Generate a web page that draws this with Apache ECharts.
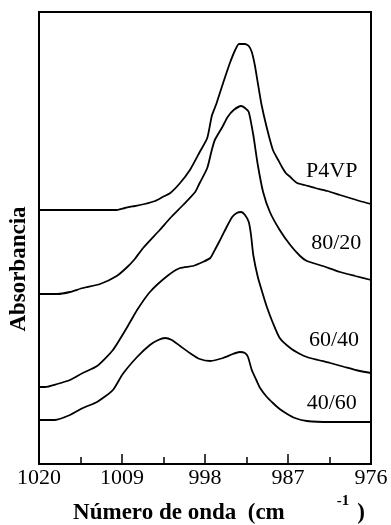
<!DOCTYPE html>
<html>
<head>
<meta charset="utf-8">
<script src="https://cdn.jsdelivr.net/npm/echarts@6/dist/echarts.min.js"></script>
<style>
  html, body { margin: 0; padding: 0; background: #fff; }
  #chart { width: 391px; height: 525px; }
</style>
</head>
<body>
<div id="chart"></div>
<script>
// tick labels of the wavenumber axis
var xTicks = [1020, 1009, 998, 987, 976];

// spectra (wavenumber, cm-1 / absorbance, stacked offsets)
var p4vpWn = [1020.0,1017.2,1014.6,1011.9,1009.7,1008.6,1007.3,1006.0,1004.6,1003.6,1002.6,1001.3,1000.0,998.7,997.7,997.1,996.5,995.6,994.7,994.0,993.5,992.7,992.2,991.8,991.4,991.0,990.5,989.8,989.0,988.3,987.8,987.3,986.7,985.8,984.8,983.4,981.8,980.1,978.8,977.5,976.0];
var p4vpAbs = [2.54,2.54,2.54,2.54,2.54,2.56,2.58,2.60,2.63,2.67,2.71,2.81,2.94,3.12,3.26,3.48,3.60,3.81,4.01,4.14,4.20,4.20,4.18,4.12,3.99,3.81,3.59,3.36,3.14,3.04,2.97,2.91,2.87,2.81,2.79,2.76,2.73,2.69,2.66,2.63,2.60];

var b8020Wn = [1020.0,1017.6,1015.9,1014.2,1011.9,1009.7,1008.3,1007.3,1006.2,1004.0,1002.6,1000.9,999.3,998.7,997.7,997.1,996.7,995.7,995.0,994.2,993.2,992.7,992.2,991.6,991.0,990.3,989.4,988.1,986.7,985.4,984.5,982.4,980.1,978.1,976.0];
var b8020Abs = [1.70,1.70,1.72,1.76,1.80,1.88,1.97,2.05,2.16,2.34,2.46,2.59,2.72,2.81,2.96,3.14,3.24,3.37,3.47,3.54,3.58,3.56,3.52,3.29,2.99,2.72,2.52,2.34,2.19,2.08,2.03,1.98,1.92,1.88,1.84];

var b6040Wn = [1020.0,1019.2,1017.6,1015.9,1014.2,1012.3,1010.2,1008.3,1007.0,1005.3,1003.0,1001.3,999.6,998.3,997.3,996.7,996.0,995.2,994.4,993.8,993.2,992.7,992.2,991.9,991.6,991.0,990.3,989.8,989.0,988.1,986.7,985.4,984.5,983.0,981.4,979.5,977.5,976.0];
var b6040Abs = [0.77,0.77,0.80,0.84,0.91,0.98,1.14,1.37,1.54,1.72,1.88,1.96,1.98,2.02,2.06,2.14,2.24,2.36,2.47,2.51,2.52,2.49,2.42,2.29,2.09,1.87,1.69,1.57,1.41,1.26,1.16,1.10,1.07,1.04,1.01,0.97,0.93,0.91];

var b4060Wn = [1020.0,1017.9,1015.9,1014.2,1012.3,1010.2,1008.9,1007.0,1005.3,1004.2,1003.3,1002.4,1001.3,1000.0,998.7,997.3,995.6,994.3,993.4,992.7,992.3,991.8,991.2,990.7,989.8,989.0,988.1,987.1,986.1,984.5,981.4,978.8,976.0];
var b4060Abs = [0.44,0.44,0.49,0.56,0.62,0.74,0.90,1.07,1.19,1.24,1.26,1.24,1.18,1.11,1.05,1.03,1.06,1.10,1.12,1.11,1.07,0.94,0.84,0.76,0.67,0.61,0.55,0.50,0.46,0.43,0.42,0.42,0.42];

var seriesNames = ["P4VP", "80/20", "60/40", "40/60"];
var labelWn = [981.2, 980.6, 980.9, 981.2];
var labelAbs = [2.93, 2.21, 1.24, 0.61];

var wnList = [p4vpWn, b8020Wn, b6040Wn, b4060Wn];
var absList = [p4vpAbs, b8020Abs, b6040Abs, b4060Abs];

var serif = "Liberation Serif, Times New Roman, serif";

var chart = echarts.init(document.getElementById("chart"), null, { renderer: "canvas" });

var series = seriesNames.map(function (name, i) {
  return {
    name: name,
    type: "line",
    data: wnList[i].map(function (w, j) { return [w, absList[i][j]]; }),
    showSymbol: false,
    smooth: 0.2,
    lineStyle: { color: "#000", width: 1.8 },
    markPoint: {
      symbol: "circle",
      symbolSize: 0,
      itemStyle: { color: "transparent" },
      label: {
        show: true,
        position: "inside",
        formatter: name,
        color: "#000",
        fontFamily: serif,
        fontSize: 22
      },
      data: [{ coord: [labelWn[i], labelAbs[i]] }]
    }
  };
});

var option = {
  animation: false,
  backgroundColor: "#fff",
  grid: {
    left: 39,
    right: 20,
    top: 12,
    bottom: 61,
    outerBoundsMode: "none",
    show: true,
    borderColor: "#000",
    borderWidth: 2,
    backgroundColor: "transparent"
  },
  xAxis: {
    type: "value",
    inverse: true,
    min: 976,
    max: 1020,
    interval: 11,
    axisLine: { show: true, lineStyle: { color: "#000", width: 2 } },
    axisTick: { show: true, inside: true, length: 10, lineStyle: { color: "#000", width: 1.5 } },
    minorTick: { show: true, splitNumber: 2, length: 7, lineStyle: { color: "#000", width: 1.5 } },
    splitLine: { show: false },
    axisLabel: {
      margin: 3,
      color: "#000",
      fontFamily: serif,
      fontSize: 22,
      formatter: function (v) { return xTicks.indexOf(v) >= 0 ? String(v) : ""; }
    },
    name: "{a|Número de onda  (cm}{s|-1}{p|)}",
    nameLocation: "middle",
    nameGap: 29,
    nameTextStyle: {
      padding: [0, 0, 0, 28],
      rich: {
        a: { fontFamily: serif, fontWeight: "bold", fontSize: 23, lineHeight: 31, color: "#000", verticalAlign: "bottom" },
        s: { fontFamily: serif, fontWeight: "bold", fontSize: 15, lineHeight: 15, color: "#000", verticalAlign: "top", padding: [0, 0, 0, 52] },
        p: { fontFamily: serif, fontWeight: "bold", fontSize: 23, lineHeight: 31, color: "#000", verticalAlign: "bottom", padding: [0, 0, 0, 8] }
      }
    }
  },
  yAxis: {
    type: "value",
    min: 0,
    max: 4.52,
    axisLine: { show: true, lineStyle: { color: "#000", width: 2 } },
    axisTick: { show: false },
    axisLabel: { show: false },
    splitLine: { show: false },
    name: "Absorbancia",
    nameLocation: "middle",
    nameRotate: 90,
    nameGap: 8,
    nameTextStyle: {
      fontFamily: serif,
      fontWeight: "bold",
      fontSize: 23,
      color: "#000",
      padding: [0, 62, 0, 0]
    }
  },
  series: series
};

chart.setOption(option);
</script>
</body>
</html>
